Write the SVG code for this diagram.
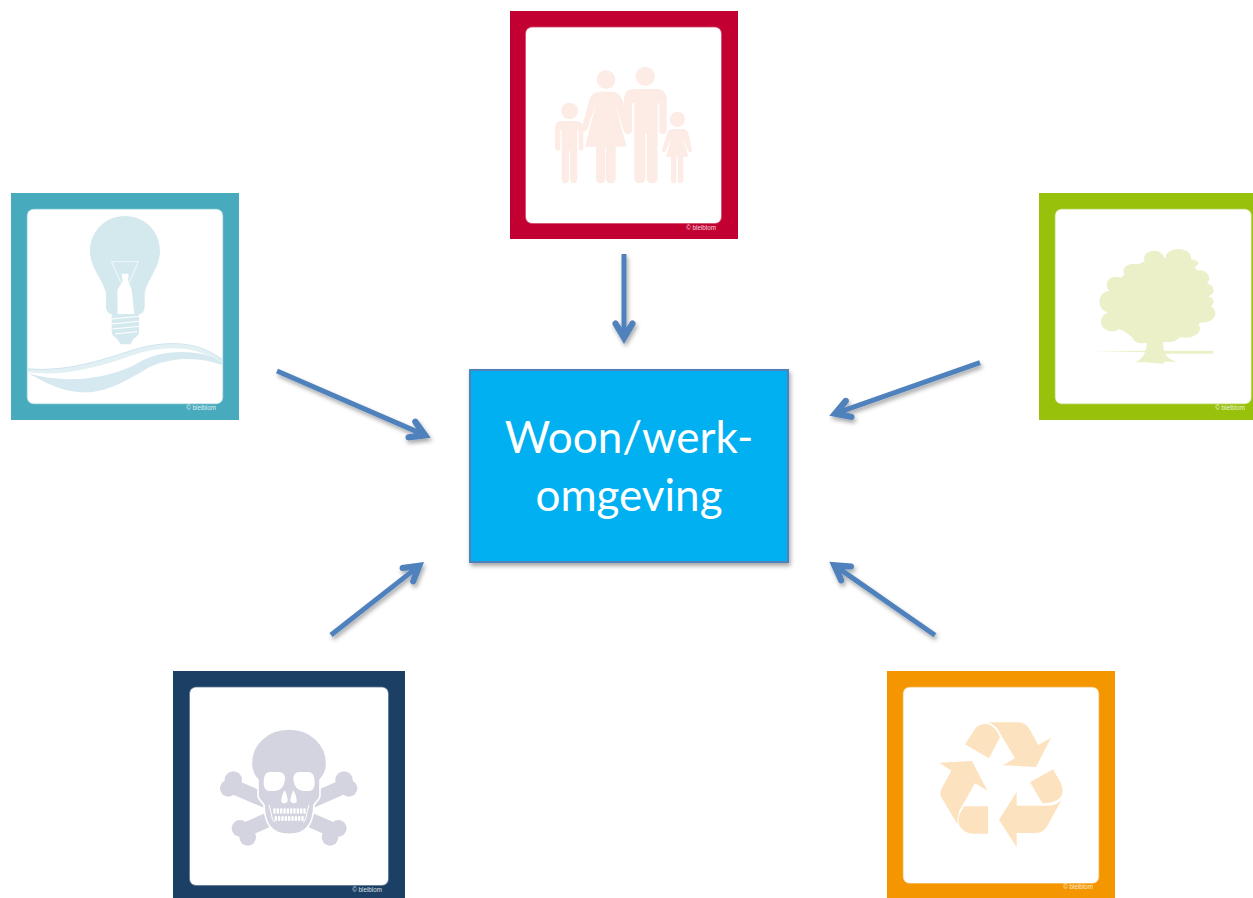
<svg xmlns="http://www.w3.org/2000/svg" width="1253" height="898" viewBox="0 0 1253 898">
<style>
.inner{fill:#fff;stroke:#fff;stroke-opacity:.45;stroke-width:1.5}
.copy{font-family:"Liberation Sans",Arial,sans-serif;font-size:6.3px;fill:#fff;fill-opacity:.85;text-anchor:end}
.conn{stroke:#4F81BD;stroke-width:5;fill:none;marker-end:url(#head)}
.title{font-family:Lato,"Open Sans",sans-serif;font-size:44px;fill:#fff;text-anchor:middle}
</style>
<defs>
<marker id="head" markerUnits="userSpaceOnUse" orient="auto" markerWidth="30" markerHeight="30" refX="0" refY="0" viewBox="-14 -15 30 30">
<path fill="#4F81BD" d="M12 0 L-7.5 11.5 A3.2 3.2 0 0 1 -11 6.5 L-1 0 L-11 -6.5 A3.2 3.2 0 0 1 -7.5 -11.5 Z"/>
</marker>
<filter id="sh" x="-20%" y="-20%" width="150%" height="150%">
<feDropShadow dx="1.5" dy="3" stdDeviation="2.2" flood-color="#000" flood-opacity=".35"/>
</filter>
</defs>
<rect width="1253" height="898" fill="#fff"/>

<g id="connectors" filter="url(#sh)">
<line class="conn" x1="624" y1="254" x2="624" y2="332"/>
<line class="conn" x1="277" y1="371" x2="419.7" y2="432.9"/>
<line class="conn" x1="980" y1="362.7" x2="840.6" y2="411.7"/>
<line class="conn" x1="331" y1="635" x2="414.6" y2="569.4"/>
<line class="conn" x1="935" y1="635.3" x2="839.1" y2="568.6"/>
</g>

<g id="center">
<rect x="470" y="370" width="318" height="192" fill="#00B0F0" stroke="#4F81BD" stroke-width="2" filter="url(#sh)"/>
<text class="title" x="629" y="453">Woon/werk-</text>
<text class="title" x="629" y="511">omgeving</text>
</g>

<g id="family">
<rect x="510" y="11" width="228" height="228" fill="#C20032"/>
<rect class="inner" x="526" y="27.500" width="195" height="195.500" rx="6"/>
<g transform="translate(500 0) scale(.33333)" fill="#FCECE5">
<circle cx="436" cy="229" r="29"/>
<path d="M372 300 Q372 267 405 267 H470 Q500 267 500 300 V390 Q500 402 490 402 Q478 402 478 390 V310 H473 V535 Q473 550 456 550 Q440 550 440 535 V400 H436 V535 Q436 550 420 550 Q403 550 403 535 V310 H396 V390 Q396 402 384 402 Q372 402 372 390 Z"/>
<circle cx="318" cy="239" r="28"/>
<path d="M300 275 H335 Q358 275 368 300 L392 385 Q395 398 385 401 Q376 403 372 392 L345 312 L380 440 H347 V535 Q347 550 332 550 Q318 550 318 535 V440 H316 V535 Q316 550 302 550 Q288 550 288 535 V440 H255 L288 312 L262 388 Q257 398 249 394 Q241 390 246 380 L268 300 Q276 275 300 275 Z"/>
<circle cx="209" cy="333" r="25"/>
<path d="M185 363 H232 Q250 365 250 385 V440 Q250 452 243 452 Q236 452 236 440 V390 H232 V535 Q232 550 221 550 Q210 550 210 535 V452 H207 V535 Q207 550 196 550 Q185 550 185 535 V390 H181 V440 Q181 452 173 452 Q165 452 165 440 V385 Q165 363 185 363 Z"/>
<circle cx="532" cy="358" r="23"/>
<path d="M515 387 H552 Q562 389 566 405 L576 448 Q577 457 570 457 Q565 457 563 450 L548 410 L565 470 H550 V540 Q550 550 541 550 Q534 550 534 540 V470 H529 V540 Q529 550 520 550 Q513 550 513 540 V470 H498 L515 410 L498 452 Q495 458 490 456 Q484 454 487 446 L500 405 Q505 389 515 387 Z"/>
</g>
<text class="copy" x="716" y="230">© bleiblom</text>
</g>

<g id="energy">
<rect x="11" y="193" width="228" height="227" fill="#48ABBD"/>
<rect class="inner" x="27.500" y="209.500" width="195" height="194" rx="6"/>
<g transform="translate(0 185) scale(.33333)">
<path fill="#D4E9EE" d="M375 93 C435 93 480 140 480 198 C480 250 442 280 434 325 V368 Q432 384 417 388 V440 Q417 452 400 462 L392 478 H362 L352 462 Q335 452 335 440 V388 Q320 384 318 368 V325 C308 280 270 250 270 198 C270 140 315 93 375 93 Z"/>
<path fill="#fff" d="M365 266 H386 L384 285 L395 315 L403 387 H353 L352 315 L368 288 Z"/>
<path fill="none" stroke="#EAF5F7" stroke-width="4" d="M362 292 L335 230 H415 L388 292"/>
<path fill="none" stroke="#fff" stroke-width="3" d="M335 402 L417 394 M335 417 L417 409 M337 432 L417 424 M345 447 L412 440"/>
<path fill="#D6E9F0" d="M84 565 C130 590 190 625 260 622 C330 620 390 580 450 545 C520 515 600 515 666 540 V525 C590 495 500 490 420 530 C340 580 200 600 84 565 Z"/>
<path fill="#E2F0F4" d="M84 550 C200 560 290 530 400 495 C480 468 580 465 666 520 V535 C590 480 490 480 400 510 C290 550 180 575 84 562 Z"/>
<path fill="none" stroke="#CFE4EC" stroke-width="3" d="M84 552 C200 560 290 530 400 495 C480 470 590 460 666 525"/>
</g>
<text class="copy" x="216" y="410">© bleiblom</text>
</g>

<g id="nature">
<rect x="1039" y="193" width="214" height="227" fill="#98C10C"/>
<rect class="inner" x="1055.500" y="209.500" width="195.500" height="194" rx="6"/>
<g transform="translate(1030 185) scale(.33333)" fill="#EBF0C8">
<ellipse cx="372" cy="220" rx="30" ry="23"/><ellipse cx="445" cy="218" rx="38" ry="26"/><ellipse cx="480" cy="235" rx="25" ry="12"/>
<ellipse cx="258" cy="300" rx="28" ry="25"/><ellipse cx="238" cy="350" rx="30" ry="32"/><ellipse cx="246" cy="410" rx="33" ry="29"/>
<ellipse cx="510" cy="280" rx="28" ry="24"/><ellipse cx="526" cy="315" rx="25" ry="20"/><ellipse cx="526" cy="350" rx="25" ry="18"/><ellipse cx="518" cy="385" rx="38" ry="28"/>
<ellipse cx="312" cy="258" rx="32" ry="22"/>
<path d="M245 300 L320 240 L372 215 L480 225 L530 300 L525 400 L470 450 L420 470 L330 475 L285 440 L240 420 L225 350 Z"/>
<ellipse cx="335" cy="445" rx="32" ry="30"/><ellipse cx="420" cy="445" rx="30" ry="26"/><ellipse cx="468" cy="430" rx="42" ry="28"/>
<path d="M350 465 H400 C398 500 405 520 440 530 H405 L400 536 L345 532 H316 C345 520 352 490 350 465 Z"/>
<path d="M182 498 L350 497 V502 Z M400 497 H550 V506 H400 Z"/>
</g>
<text class="copy" x="1245" y="410">© bleiblom</text>
</g>

<g id="toxic">
<rect x="173" y="671" width="232" height="227" fill="#1C3F65"/>
<rect class="inner" x="190" y="687.500" width="198" height="197.500" rx="6"/>
<g transform="translate(165 665) scale(.33333)">
<g fill="#D3D4DF">
<path stroke="#D3D4DF" stroke-width="44" d="M205 365 L505 495 M535 365 L240 495"/>
<circle cx="205" cy="345" r="26"/><circle cx="190" cy="370" r="25"/>
<circle cx="537" cy="345" r="26"/><circle cx="552" cy="370" r="25"/>
<circle cx="225" cy="490" r="25"/><circle cx="248" cy="517" r="25"/>
<circle cx="520" cy="490" r="25"/><circle cx="495" cy="517" r="25"/>
<path stroke="#fff" stroke-width="5" d="M372 192 C440 192 485 240 485 295 C485 320 475 335 465 345 V392 C465 402 455 408 447 420 C445 470 430 508 372 508 C314 508 299 470 297 420 C289 408 279 402 279 392 V345 C269 335 259 320 259 295 C259 240 304 192 372 192 Z"/>
</g>
<g fill="#fff">
<path d="M312 321 H345 Q362 325 360 345 Q355 376 330 378 H310 Q295 375 296 350 Q296 325 312 321 Z"/>
<path d="M433 321 H400 Q383 325 385 345 Q390 376 415 378 H435 Q450 375 449 350 Q449 325 433 321 Z"/>
<path d="M359 375 Q368 395 368 408 Q365 416 356 415 Q348 414 349 404 Q350 390 359 375 Z"/>
<path d="M385 375 Q376 395 376 408 Q379 416 388 415 Q396 414 395 404 Q394 390 385 375 Z"/>
<path d="M312 420 Q318 440 322 462 L329 472 M432 420 Q426 440 422 462 L415 472" fill="none" stroke="#fff" stroke-width="3"/>
<rect x="325" y="430" width="7" height="16" rx="3"/><rect x="335" y="430" width="7" height="16" rx="3"/><rect x="345" y="430" width="7" height="16" rx="3"/><rect x="355" y="430" width="7" height="16" rx="3"/><rect x="365" y="430" width="7" height="16" rx="3"/><rect x="375" y="430" width="7" height="16" rx="3"/><rect x="385" y="430" width="7" height="16" rx="3"/><rect x="395" y="430" width="7" height="16" rx="3"/><rect x="405" y="430" width="7" height="16" rx="3"/><rect x="415" y="430" width="7" height="16" rx="3"/>
<rect x="329" y="453" width="7" height="15" rx="3"/><rect x="339" y="453" width="7" height="15" rx="3"/><rect x="349" y="453" width="7" height="15" rx="3"/><rect x="359" y="453" width="7" height="15" rx="3"/><rect x="369" y="453" width="7" height="15" rx="3"/><rect x="379" y="453" width="7" height="15" rx="3"/><rect x="389" y="453" width="7" height="15" rx="3"/><rect x="399" y="453" width="7" height="15" rx="3"/><rect x="409" y="453" width="7" height="15" rx="3"/>
</g>
</g>
<text class="copy" x="382" y="892">© bleiblom</text>
</g>

<g id="recycle">
<rect x="887" y="671" width="228" height="227" fill="#F39600"/>
<rect class="inner" x="903.500" y="687.500" width="195" height="195.500" rx="6"/>
<g transform="translate(880 665) scale(.33333)" fill="#FDE2BF">
<path d="M325 172 H415 Q437 172 450 195 L475 240 L513 218 L468 306 L368 301 L405 280 L360 205 Q350 182 325 172 Z"/>
<path d="M255 238 L285 192 Q298 175 320 177 Q345 180 360 217 L327 280 Z"/>
<path d="M178 293 L276 288 L322 377 L285 355 L238 437 Q232 455 232 478 L186 400 Q176 385 186 368 L214 317 Z"/>
<path d="M324 424 V506 H280 Q255 506 240 485 Q230 468 240 445 L252 424 Z"/>
<path d="M410 380 V422 H505 Q530 422 545 405 L500 485 Q488 504 465 504 H410 V547 L357 464 Z"/>
<path d="M519 313 L542 353 Q555 380 540 398 Q525 415 487 414 L450 352 Z"/>
</g>
<text class="copy" x="1093" y="889">© bleiblom</text>
</g>
</svg>
